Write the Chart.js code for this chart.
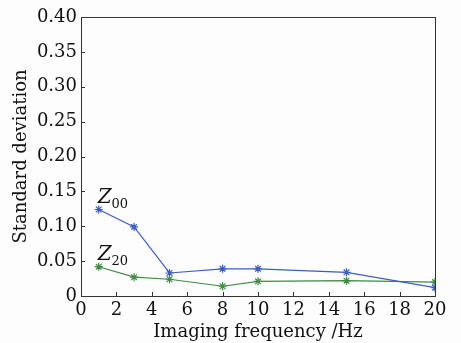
<!DOCTYPE html>
<html>
<head>
<meta charset="UTF-8">
<script src="https://cdn.jsdelivr.net/npm/chart.js@4.4.0/dist/chart.umd.min.js"></script>
<style>
  html, body { margin: 0; padding: 0; background: #fdfdfd; }
  #wrap { width: 461px; height: 343px; }
</style>
</head>
<body>
<div id="wrap"><canvas id="chart"></canvas></div>
<script>
// frequencies (Hz) and standard deviation per moment
const freqs = [1, 3, 5, 8, 10, 15, 20];
const z00 = [0.124, 0.099, 0.033, 0.039, 0.039, 0.034, 0.012];
const z20 = [0.042, 0.027, 0.024, 0.014, 0.021, 0.022, 0.020];
const xTicks = [0, 2, 4, 6, 8, 10, 12, 14, 16, 18, 20];
const yTicks = [0, 0.05, 0.10, 0.15, 0.20, 0.25, 0.30, 0.35, 0.40];

const serif = '"DejaVu Serif", "Liberation Serif", serif';

// box around plot + inward tick marks + Z labels
const frame = {
  id: 'frame',
  afterDraw(chart) {
    const c = chart.ctx, a = chart.chartArea;
    const xs = chart.scales.x, ys = chart.scales.y;
    c.save();
    c.strokeStyle = '#333';
    c.lineWidth = 1;
    c.strokeRect(a.left + 0.5, a.top + 0.5, a.right - a.left, a.bottom - a.top);
    c.beginPath();
    xTicks.forEach(v => {
      const px = Math.round(xs.getPixelForValue(v)) + 0.5;
      c.moveTo(px, a.bottom); c.lineTo(px, a.bottom - 4);
    });
    yTicks.forEach(v => {
      const py = Math.round(ys.getPixelForValue(v)) + 0.5;
      c.moveTo(a.left, py); c.lineTo(a.left + 4, py);
    });
    c.stroke();

    const label = (sub, val) => {
      const px = xs.getPixelForValue(freqs[0]) - 1;
      const py = ys.getPixelForValue(val) - 7;
      c.fillStyle = '#111';
      c.textBaseline = 'alphabetic';
      c.font = 'italic 20px ' + serif;
      c.fillText('Z', px, py);
      const w = c.measureText('Z').width;
      c.font = '13px ' + serif;
      c.fillText(sub, px + w, py + 5);
    };
    label('00', z00[0]);
    label('20', z20[0]);
    c.restore();
  }
};

new Chart(document.getElementById('chart'), {
  type: 'line',
  data: {
    datasets: [
      {
        label: 'Z00',
        data: freqs.map((f, i) => ({ x: f, y: z00[i] })),
        borderColor: '#3d5cc4',
        backgroundColor: '#3d5cc4',
        borderWidth: 1.2,
        pointStyle: 'star',
        pointRadius: 4,
        pointBorderWidth: 1.2
      },
      {
        label: 'Z20',
        data: freqs.map((f, i) => ({ x: f, y: z20[i] })),
        borderColor: '#3f8c43',
        backgroundColor: '#3f8c43',
        borderWidth: 1.2,
        pointStyle: 'star',
        pointRadius: 4,
        pointBorderWidth: 1.2
      }
    ]
  },
  options: {
    responsive: true,
    maintainAspectRatio: false,
    animation: false,
    layout: { padding: { top: 17, right: 26, left: 0, bottom: 0 } },
    plugins: { legend: { display: false }, tooltip: { enabled: false } },
    scales: {
      x: {
        type: 'linear',
        min: 0, max: 20,
        afterBuildTicks: s => { s.ticks = xTicks.map(v => ({ value: v })); },
        afterFit: s => { s.height = 47; },
        grid: { display: false, drawTicks: false },
        border: { display: false },
        ticks: { color: '#111', font: { family: serif, size: 18 }, padding: 4, maxRotation: 0 },
        title: { display: true, text: 'Imaging frequency /Hz', color: '#111',
                 font: { family: serif, size: 18 }, padding: { top: 0, bottom: 0 } }
      },
      y: {
        min: 0, max: 0.40,
        afterBuildTicks: s => { s.ticks = yTicks.map(v => ({ value: v })); },
        afterFit: s => { s.width = 81; },
        grid: { display: false, drawTicks: false },
        border: { display: false },
        ticks: { color: '#111', font: { family: serif, size: 18 }, padding: 4,
                 callback: v => v === 0 ? '0' : v.toFixed(2) },
        title: { display: true, text: 'Standard deviation', color: '#111',
                 font: { family: serif, size: 18 }, padding: { top: 11, bottom: 2 } }
      }
    }
  },
  plugins: [frame]
});
</script>
</body>
</html>
